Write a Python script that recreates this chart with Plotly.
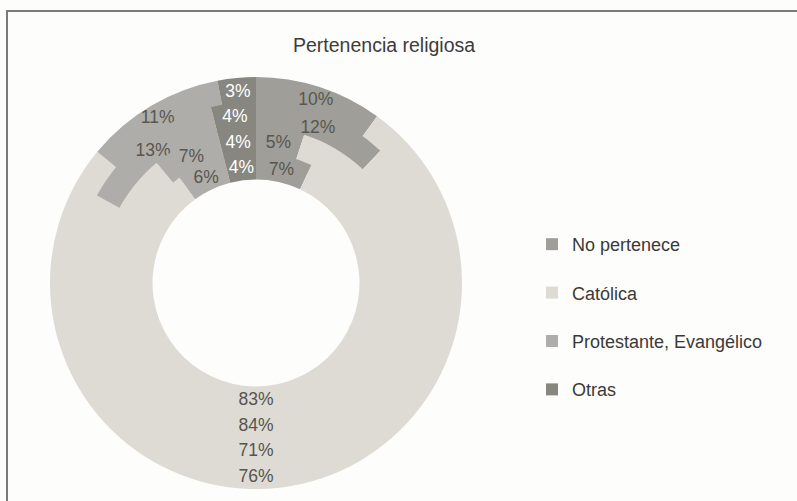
import plotly.graph_objects as go

# Religious affiliation shares, one ring per survey group (outer ring first)
categories = ["No pertenece", "Católica", "Protestante, Evangélico", "Otras"]
ring_outer = [10, 76, 11, 3]
ring_second = [12, 71, 13, 4]
ring_third = [5, 84, 7, 4]
ring_inner = [7, 83, 6, 4]
rings = [ring_outer, ring_second, ring_third, ring_inner]

colors = ["#9f9e99", "#dedbd4", "#afada9", "#87877f"]
label_colors = ["#57574f", "#55554f", "#57574f", "#ffffff"]

W, H = 797, 501
cx, cy = 256, 283          # donut centre in pixels
r_out, r_hole = 206, 103.5  # outer radius and hole radius in pixels
thick = (r_out - r_hole) / len(rings)
FONT = "Liberation Sans, Arial, sans-serif"

fig = go.Figure()

for i, vals in enumerate(rings):
    r_in = r_out - (i + 1) * thick
    # inner rings overlap the previous one by a pixel to hide seams
    r = r_out - i * thick + (1.2 if i > 0 else 0)
    fig.add_trace(go.Pie(
        labels=categories,
        values=vals,
        sort=False,
        direction="clockwise",
        rotation=0,
        hole=r_in / r,
        domain=dict(x=[(cx - r) / W, (cx + r) / W],
                    y=[1 - (cy + r) / H, 1 - (cy - r) / H]),
        marker=dict(colors=colors, line=dict(width=0)),
        texttemplate="%{value}%",
        textposition="inside",
        insidetextorientation="horizontal",
        textfont=dict(family=FONT, size=17.5, color=label_colors),
        showlegend=False,
        hoverinfo="label+value",
    ))

# Legend entries
for name, col in zip(categories, colors):
    fig.add_trace(go.Scatter(
        x=[None], y=[None], mode="markers", name=name,
        legendgroup=name,
        marker=dict(symbol="square", size=12, color=col),
    ))

fig.update_layout(
    width=W, height=H,
    margin=dict(l=0, r=0, t=0, b=0),
    paper_bgcolor="#fdfdfc",
    plot_bgcolor="rgba(0,0,0,0)",
    xaxis=dict(visible=False),
    yaxis=dict(visible=False),
    uniformtext=dict(minsize=17.5, mode="show"),
    font=dict(family=FONT, size=18, color="#3a3a38"),
    legend=dict(
        x=532 / W, y=1 - 226 / H, xanchor="left", yanchor="top",
        tracegroupgap=22, bgcolor="rgba(0,0,0,0)",
        font=dict(family=FONT, size=18, color="#3a3a38"),
    ),
    annotations=[dict(
        text="Pertenencia religiosa", x=384 / W, y=1 - 45 / H,
        xref="paper", yref="paper", xanchor="center", yanchor="middle",
        showarrow=False, font=dict(family=FONT, size=19.5, color="#3c3c3a"),
    )],
    shapes=[dict(
        type="rect", xref="paper", yref="paper",
        x0=7 / W, x1=1.05, y0=-0.05, y1=1 - 11 / H,
        line=dict(color="#7a7a78", width=2), fillcolor="rgba(0,0,0,0)",
        layer="below",
    )],
)

fig.write_html("out.html")
